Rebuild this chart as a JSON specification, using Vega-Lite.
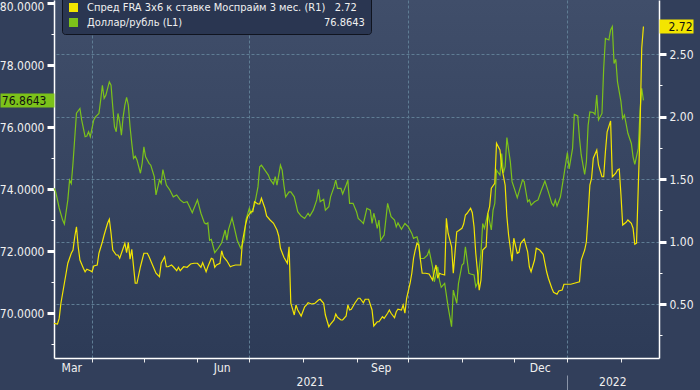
{
 "$schema": "https://vega.github.io/schema/vega-lite/v6.json",
 "width": 605, "height": 358,
 "autosize": {"type": "none"},
 "padding": {"left": 54, "top": 0, "right": 41, "bottom": 32},
 "background": "#323f5b",
 "datasets": {
  "usd": [
   {"d":"2021-03-10","v":74.03},{"d":"2021-03-11","v":73.91},{"d":"2021-03-13","v":73.39},{"d":"2021-03-15","v":73.0},{"d":"2021-03-16","v":72.87},{"d":"2021-03-18","v":73.65},{"d":"2021-03-19","v":74.29},{"d":"2021-03-20","v":74.18},{"d":"2021-03-21","v":74.84},{"d":"2021-03-23","v":76.45},{"d":"2021-03-25","v":76.6},{"d":"2021-03-26","v":76.23},{"d":"2021-03-28","v":75.69},{"d":"2021-03-29","v":75.71},{"d":"2021-03-30","v":75.85},{"d":"2021-03-31","v":75.69},
   {"d":"2021-04-02","v":76.23},{"d":"2021-04-03","v":76.33},{"d":"2021-04-05","v":76.44},{"d":"2021-04-06","v":76.87},{"d":"2021-04-07","v":77.35},{"d":"2021-04-08","v":76.93},{"d":"2021-04-09","v":77.03},{"d":"2021-04-11","v":77.46},{"d":"2021-04-12","v":77.35},{"d":"2021-04-13","v":76.65},{"d":"2021-04-14","v":76.01},{"d":"2021-04-15","v":75.85},{"d":"2021-04-16","v":76.44},{"d":"2021-04-17","v":76.17},{"d":"2021-04-18","v":75.74},{"d":"2021-04-19","v":76.33},{"d":"2021-04-20","v":76.71},{"d":"2021-04-21","v":76.96},{"d":"2021-04-22","v":76.71},{"d":"2021-04-23","v":76.01},{"d":"2021-04-24","v":75.47},{"d":"2021-04-25","v":74.99},{"d":"2021-04-26","v":75.06},{"d":"2021-04-27","v":74.94},{"d":"2021-04-29","v":74.51},{"d":"2021-04-30","v":74.83},
   {"d":"2021-05-01","v":75.36},{"d":"2021-05-02","v":75.04},{"d":"2021-05-04","v":74.83},{"d":"2021-05-05","v":74.77},{"d":"2021-05-07","v":74.4},{"d":"2021-05-08","v":73.81},{"d":"2021-05-10","v":74.29},{"d":"2021-05-11","v":74.18},{"d":"2021-05-12","v":74.63},{"d":"2021-05-14","v":74.13},{"d":"2021-05-16","v":73.97},{"d":"2021-05-18","v":73.75},{"d":"2021-05-20","v":73.81},{"d":"2021-05-22","v":73.65},{"d":"2021-05-24","v":73.56},{"d":"2021-05-26","v":73.59},{"d":"2021-05-27","v":73.48},{"d":"2021-05-29","v":73.24},{"d":"2021-05-30","v":73.38},
   {"d":"2021-06-01","v":73.65},{"d":"2021-06-03","v":73.22},{"d":"2021-06-05","v":72.91},{"d":"2021-06-06","v":72.87},{"d":"2021-06-07","v":72.91},{"d":"2021-06-08","v":72.35},{"d":"2021-06-09","v":72.38},{"d":"2021-06-11","v":71.95},{"d":"2021-06-13","v":72.09},{"d":"2021-06-15","v":72.27},{"d":"2021-06-17","v":72.68},{"d":"2021-06-18","v":72.35},{"d":"2021-06-19","v":72.7},{"d":"2021-06-21","v":73.07},{"d":"2021-06-22","v":72.84},{"d":"2021-06-24","v":72.35},{"d":"2021-06-26","v":72.09},{"d":"2021-06-28","v":72.35},{"d":"2021-06-29","v":73.0},
   {"d":"2021-07-01","v":73.38},{"d":"2021-07-02","v":73.22},{"d":"2021-07-04","v":73.48},{"d":"2021-07-06","v":74.07},{"d":"2021-07-07","v":74.72},{"d":"2021-07-08","v":74.77},{"d":"2021-07-10","v":74.61},{"d":"2021-07-12","v":74.45},{"d":"2021-07-13","v":74.31},{"d":"2021-07-15","v":74.16},{"d":"2021-07-16","v":74.4},{"d":"2021-07-17","v":74.13},{"d":"2021-07-19","v":74.77},{"d":"2021-07-20","v":74.61},{"d":"2021-07-21","v":74.13},{"d":"2021-07-22","v":73.75},{"d":"2021-07-24","v":73.91},{"d":"2021-07-25","v":73.91},{"d":"2021-07-27","v":73.75},{"d":"2021-07-29","v":73.27},{"d":"2021-07-31","v":73.13},
   {"d":"2021-08-02","v":73.05},{"d":"2021-08-04","v":73.22},{"d":"2021-08-05","v":73.13},{"d":"2021-08-07","v":73.32},{"d":"2021-08-09","v":73.65},{"d":"2021-08-10","v":73.99},{"d":"2021-08-11","v":73.59},{"d":"2021-08-13","v":73.67},{"d":"2021-08-14","v":73.32},{"d":"2021-08-16","v":73.43},{"d":"2021-08-17","v":73.75},{"d":"2021-08-19","v":74.07},{"d":"2021-08-20","v":74.29},{"d":"2021-08-21","v":74.02},{"d":"2021-08-23","v":74.02},{"d":"2021-08-24","v":73.84},{"d":"2021-08-26","v":74.13},{"d":"2021-08-27","v":74.29},{"d":"2021-08-28","v":73.54},{"d":"2021-08-30","v":73.54},
   {"d":"2021-09-01","v":73.27},{"d":"2021-09-02","v":73.05},{"d":"2021-09-04","v":72.95},{"d":"2021-09-05","v":72.89},{"d":"2021-09-07","v":73.38},{"d":"2021-09-09","v":73.32},{"d":"2021-09-10","v":72.89},{"d":"2021-09-11","v":73.22},{"d":"2021-09-12","v":73.0},{"d":"2021-09-13","v":72.73},{"d":"2021-09-14","v":73.0},{"d":"2021-09-15","v":72.35},{"d":"2021-09-17","v":72.52},{"d":"2021-09-19","v":73.54},{"d":"2021-09-21","v":73.11},{"d":"2021-09-23","v":73.0},{"d":"2021-09-24","v":72.78},{"d":"2021-09-25","v":72.91},{"d":"2021-09-27","v":72.7},{"d":"2021-09-29","v":72.89},
   {"d":"2021-10-01","v":72.78},{"d":"2021-10-03","v":72.57},{"d":"2021-10-04","v":72.41},{"d":"2021-10-06","v":72.46},{"d":"2021-10-07","v":72.25},{"d":"2021-10-08","v":71.76},{"d":"2021-10-10","v":71.76},{"d":"2021-10-12","v":71.87},{"d":"2021-10-13","v":72.03},{"d":"2021-10-15","v":71.49},{"d":"2021-10-16","v":71.01},{"d":"2021-10-18","v":71.49},{"d":"2021-10-19","v":71.06},{"d":"2021-10-20","v":70.83},{"d":"2021-10-22","v":70.96},{"d":"2021-10-24","v":70.2},{"d":"2021-10-26","v":69.56},{"d":"2021-10-27","v":70.74},{"d":"2021-10-29","v":70.31},{"d":"2021-10-30","v":70.96},
   {"d":"2021-11-01","v":71.55},{"d":"2021-11-02","v":71.6},{"d":"2021-11-03","v":72.14},{"d":"2021-11-05","v":71.28},{"d":"2021-11-06","v":71.26},{"d":"2021-11-08","v":71.23},{"d":"2021-11-09","v":70.85},{"d":"2021-11-10","v":70.96},{"d":"2021-11-12","v":71.93},{"d":"2021-11-13","v":72.89},{"d":"2021-11-14","v":72.73},{"d":"2021-11-16","v":73.22},{"d":"2021-11-18","v":72.68},{"d":"2021-11-19","v":73.32},{"d":"2021-11-20","v":73.54},{"d":"2021-11-21","v":74.61},{"d":"2021-11-23","v":74.45},{"d":"2021-11-24","v":75.15},{"d":"2021-11-25","v":74.52},{"d":"2021-11-26","v":74.72},{"d":"2021-11-27","v":75.66},{"d":"2021-11-29","v":74.88},{"d":"2021-11-30","v":74.24},
   {"d":"2021-12-01","v":74.07},{"d":"2021-12-03","v":73.72},{"d":"2021-12-04","v":73.91},{"d":"2021-12-06","v":74.29},{"d":"2021-12-07","v":74.24},{"d":"2021-12-09","v":73.59},{"d":"2021-12-10","v":73.65},{"d":"2021-12-11","v":73.48},{"d":"2021-12-13","v":73.59},{"d":"2021-12-15","v":73.65},{"d":"2021-12-17","v":73.97},{"d":"2021-12-19","v":74.26},{"d":"2021-12-21","v":73.91},{"d":"2021-12-23","v":73.54},{"d":"2021-12-24","v":73.46},{"d":"2021-12-25","v":73.65},{"d":"2021-12-26","v":73.45},{"d":"2021-12-28","v":73.75},{"d":"2021-12-30","v":74.45},
   {"d":"2022-01-01","v":75.18},{"d":"2022-01-02","v":74.65},{"d":"2022-01-04","v":75.31},{"d":"2022-01-05","v":76.41},{"d":"2022-01-07","v":76.36},{"d":"2022-01-08","v":75.64},{"d":"2022-01-09","v":75.1},{"d":"2022-01-11","v":74.47},{"d":"2022-01-12","v":74.88},{"d":"2022-01-13","v":76.06},{"d":"2022-01-14","v":76.49},{"d":"2022-01-16","v":76.47},{"d":"2022-01-17","v":76.41},{"d":"2022-01-18","v":77.03},{"d":"2022-01-19","v":76.23},{"d":"2022-01-21","v":76.44},{"d":"2022-01-22","v":77.89},{"d":"2022-01-23","v":78.86},{"d":"2022-01-25","v":78.81},{"d":"2022-01-26","v":79.13},{"d":"2022-01-27","v":79.24},{"d":"2022-01-28","v":78.05},{"d":"2022-01-29","v":78.19},{"d":"2022-01-30","v":77.46},
   {"d":"2022-02-01","v":76.82},{"d":"2022-02-02","v":76.28},{"d":"2022-02-03","v":76.39},{"d":"2022-02-05","v":75.8},{"d":"2022-02-07","v":75.47},{"d":"2022-02-08","v":75.04},{"d":"2022-02-09","v":74.8},{"d":"2022-02-11","v":75.31},{"d":"2022-02-12","v":76.49},{"d":"2022-02-13","v":77.25},{"d":"2022-02-14","v":76.8643}
  ],
  "fra": [
   {"d":"2021-03-10","v":0.345},{"d":"2021-03-12","v":0.34},{"d":"2021-03-13","v":0.385},{"d":"2021-03-14","v":0.506},{"d":"2021-03-16","v":0.666},{"d":"2021-03-17","v":0.746},{"d":"2021-03-18","v":0.826},{"d":"2021-03-20","v":0.906},{"d":"2021-03-21","v":0.932},{"d":"2021-03-22","v":1.038},{"d":"2021-03-23","v":1.118},{"d":"2021-03-24","v":0.958},{"d":"2021-03-25","v":0.852},{"d":"2021-03-27","v":0.786},{"d":"2021-03-28","v":0.758},{"d":"2021-03-29","v":0.778},{"d":"2021-03-31","v":0.766},
   {"d":"2021-04-01","v":0.758},{"d":"2021-04-02","v":0.804},{"d":"2021-04-04","v":0.812},{"d":"2021-04-05","v":0.906},{"d":"2021-04-07","v":0.998},{"d":"2021-04-08","v":1.052},{"d":"2021-04-10","v":1.146},{"d":"2021-04-11","v":1.178},{"d":"2021-04-12","v":1.066},{"d":"2021-04-13","v":0.932},{"d":"2021-04-15","v":0.892},{"d":"2021-04-16","v":0.892},{"d":"2021-04-17","v":0.866},{"d":"2021-04-18","v":0.906},{"d":"2021-04-20","v":0.986},{"d":"2021-04-21","v":0.911},{"d":"2021-04-22","v":0.991},{"d":"2021-04-23","v":0.858},{"d":"2021-04-24","v":0.938},{"d":"2021-04-26","v":0.666},{"d":"2021-04-27","v":0.666},{"d":"2021-04-29","v":0.798},{"d":"2021-04-30","v":0.852},
   {"d":"2021-05-01","v":0.906},{"d":"2021-05-03","v":0.906},{"d":"2021-05-04","v":0.878},{"d":"2021-05-06","v":0.812},{"d":"2021-05-08","v":0.746},{"d":"2021-05-10","v":0.718},{"d":"2021-05-11","v":0.826},{"d":"2021-05-13","v":0.878},{"d":"2021-05-14","v":0.798},{"d":"2021-05-15","v":0.798},{"d":"2021-05-17","v":0.812},{"d":"2021-05-18","v":0.798},{"d":"2021-05-20","v":0.766},{"d":"2021-05-21","v":0.794},{"d":"2021-05-22","v":0.766},{"d":"2021-05-24","v":0.798},{"d":"2021-05-26","v":0.794},{"d":"2021-05-28","v":0.82},{"d":"2021-05-30","v":0.826},
   {"d":"2021-06-01","v":0.826},{"d":"2021-06-03","v":0.794},{"d":"2021-06-04","v":0.831},{"d":"2021-06-06","v":0.758},{"d":"2021-06-07","v":0.798},{"d":"2021-06-09","v":0.866},{"d":"2021-06-10","v":0.858},{"d":"2021-06-11","v":0.794},{"d":"2021-06-12","v":0.812},{"d":"2021-06-14","v":0.826},{"d":"2021-06-15","v":0.926},{"d":"2021-06-16","v":0.878},{"d":"2021-06-18","v":0.846},{"d":"2021-06-20","v":0.798},{"d":"2021-06-21","v":0.804},{"d":"2021-06-23","v":0.812},{"d":"2021-06-26","v":0.812},{"d":"2021-06-27","v":0.998},{"d":"2021-06-29","v":1.146},{"d":"2021-06-30","v":1.198},
   {"d":"2021-07-02","v":1.238},{"d":"2021-07-03","v":1.238},{"d":"2021-07-04","v":1.318},{"d":"2021-07-06","v":1.3},{"d":"2021-07-07","v":1.3},{"d":"2021-07-08","v":1.346},{"d":"2021-07-10","v":1.266},{"d":"2021-07-11","v":1.204},{"d":"2021-07-13","v":1.172},{"d":"2021-07-15","v":1.146},{"d":"2021-07-17","v":1.092},{"d":"2021-07-18","v":1.044},{"d":"2021-07-19","v":0.946},{"d":"2021-07-21","v":0.874},{"d":"2021-07-23","v":0.826},{"d":"2021-07-24","v":0.958},{"d":"2021-07-25","v":0.506},{"d":"2021-07-27","v":0.412},{"d":"2021-07-28","v":0.492},{"d":"2021-07-29","v":0.452},{"d":"2021-07-31","v":0.404},
   {"d":"2021-08-02","v":0.478},{"d":"2021-08-03","v":0.492},{"d":"2021-08-04","v":0.51},{"d":"2021-08-06","v":0.5},{"d":"2021-08-08","v":0.506},{"d":"2021-08-10","v":0.532},{"d":"2021-08-11","v":0.538},{"d":"2021-08-13","v":0.506},{"d":"2021-08-14","v":0.412},{"d":"2021-08-16","v":0.318},{"d":"2021-08-17","v":0.34},{"d":"2021-08-19","v":0.372},{"d":"2021-08-20","v":0.42},{"d":"2021-08-21","v":0.394},{"d":"2021-08-23","v":0.372},{"d":"2021-08-24","v":0.372},{"d":"2021-08-26","v":0.404},{"d":"2021-08-27","v":0.492},{"d":"2021-08-28","v":0.452},{"d":"2021-08-29","v":0.458},{"d":"2021-08-31","v":0.506},
   {"d":"2021-09-02","v":0.546},{"d":"2021-09-03","v":0.546},{"d":"2021-09-05","v":0.51},{"d":"2021-09-06","v":0.538},{"d":"2021-09-08","v":0.538},{"d":"2021-09-10","v":0.452},{"d":"2021-09-11","v":0.324},{"d":"2021-09-13","v":0.358},{"d":"2021-09-14","v":0.358},{"d":"2021-09-16","v":0.398},{"d":"2021-09-17","v":0.386},{"d":"2021-09-19","v":0.426},{"d":"2021-09-20","v":0.452},{"d":"2021-09-21","v":0.426},{"d":"2021-09-23","v":0.39},{"d":"2021-09-24","v":0.438},{"d":"2021-09-25","v":0.458},{"d":"2021-09-27","v":0.452},{"d":"2021-09-28","v":0.492},{"d":"2021-09-29","v":0.426},{"d":"2021-09-30","v":0.546},
   {"d":"2021-10-02","v":0.666},{"d":"2021-10-03","v":0.746},{"d":"2021-10-04","v":0.866},{"d":"2021-10-05","v":0.932},{"d":"2021-10-06","v":0.986},{"d":"2021-10-07","v":0.972},{"d":"2021-10-08","v":0.852},{"d":"2021-10-09","v":0.746},{"d":"2021-10-11","v":0.746},{"d":"2021-10-13","v":0.74},{"d":"2021-10-15","v":0.692},{"d":"2021-10-16","v":0.758},{"d":"2021-10-17","v":0.812},{"d":"2021-10-18","v":0.706},{"d":"2021-10-19","v":0.746},{"d":"2021-10-20","v":0.74},{"d":"2021-10-22","v":0.732},{"d":"2021-10-23","v":1.186},{"d":"2021-10-24","v":1.066},{"d":"2021-10-26","v":0.958},{"d":"2021-10-27","v":0.746},{"d":"2021-10-29","v":1.078},{"d":"2021-10-30","v":1.086},
   {"d":"2021-11-01","v":1.106},{"d":"2021-11-02","v":1.14},{"d":"2021-11-03","v":1.212},{"d":"2021-11-04","v":1.226},{"d":"2021-11-06","v":1.266},{"d":"2021-11-07","v":1.23},{"d":"2021-11-08","v":1.118},{"d":"2021-11-09","v":0.906},{"d":"2021-11-11","v":0.61},{"d":"2021-11-12","v":0.692},{"d":"2021-11-13","v":0.932},{"d":"2021-11-15","v":0.958},{"d":"2021-11-16","v":1.226},{"d":"2021-11-17","v":1.278},{"d":"2021-11-18","v":1.426},{"d":"2021-11-20","v":1.466},{"d":"2021-11-21","v":1.786},{"d":"2021-11-23","v":1.732},{"d":"2021-11-24","v":1.598},{"d":"2021-11-26","v":1.45},{"d":"2021-11-27","v":1.2},{"d":"2021-11-28","v":1.05},{"d":"2021-11-30","v":0.842},
   {"d":"2021-12-01","v":1.026},{"d":"2021-12-03","v":0.906},{"d":"2021-12-04","v":0.914},{"d":"2021-12-05","v":0.986},{"d":"2021-12-07","v":1.02},{"d":"2021-12-09","v":0.918},{"d":"2021-12-10","v":0.798},{"d":"2021-12-11","v":0.758},{"d":"2021-12-13","v":0.852},{"d":"2021-12-14","v":0.946},{"d":"2021-12-16","v":0.932},{"d":"2021-12-18","v":0.898},{"d":"2021-12-20","v":0.758},{"d":"2021-12-21","v":0.706},{"d":"2021-12-23","v":0.626},{"d":"2021-12-24","v":0.594},{"d":"2021-12-26","v":0.578},{"d":"2021-12-27","v":0.604},{"d":"2021-12-29","v":0.612},{"d":"2021-12-30","v":0.658},
   {"d":"2022-01-01","v":0.658},{"d":"2022-01-03","v":0.658},{"d":"2022-01-05","v":0.666},{"d":"2022-01-08","v":0.678},{"d":"2022-01-09","v":0.852},{"d":"2022-01-11","v":0.932},{"d":"2022-01-12","v":0.998},{"d":"2022-01-13","v":1.212},{"d":"2022-01-14","v":1.452},{"d":"2022-01-15","v":1.506},{"d":"2022-01-16","v":1.666},{"d":"2022-01-18","v":1.732},{"d":"2022-01-19","v":1.612},{"d":"2022-01-21","v":1.518},{"d":"2022-01-22","v":1.518},{"d":"2022-01-23","v":1.718},{"d":"2022-01-24","v":1.878},{"d":"2022-01-26","v":1.964},{"d":"2022-01-27","v":1.518},{"d":"2022-01-29","v":1.546},{"d":"2022-01-30","v":1.572},{"d":"2022-01-31","v":1.58},
   {"d":"2022-02-01","v":1.372},{"d":"2022-02-02","v":1.132},{"d":"2022-02-04","v":1.154},{"d":"2022-02-05","v":1.172},{"d":"2022-02-07","v":1.146},{"d":"2022-02-08","v":1.106},{"d":"2022-02-09","v":0.978},{"d":"2022-02-10","v":0.986},{"d":"2022-02-12","v":1.878},{"d":"2022-02-13","v":2.546},{"d":"2022-02-14","v":2.72}
  ]
 },
 "config": {
  "view": {"stroke": null, "fill": {"gradient": "linear", "x1": 0, "y1": 0, "x2": 0, "y2": 1, "stops": [{"offset": 0, "color": "#404e6a"}, {"offset": 1, "color": "#2d3b57"}]}},
  "axis": {"labelFont": "DejaVu Sans Condensed, Liberation Sans", "labelFontSize": 12, "labelColor": "#f0f0f0", "domainColor": "#ffffff", "tickColor": "#ffffff", "grid": false, "title": null}
 },
 "resolve": {"scale": {"x": "independent", "y": "independent"}, "axis": {"x": "independent", "y": "independent"}},
 "layer": [
  {
   "data": {"name": "usd"},
   "mark": {"type": "line", "strokeWidth": 1.2},
   "encoding": {
    "x": {"field": "d", "type": "temporal",
     "scale": {"type": "utc", "domain": [{"year": 2021, "month": 3, "date": 10, "utc": true}, {"year": 2022, "month": 2, "date": 23, "utc": true}]},
     "axis": {"orient": "bottom", "title": null, "labels": false, "tickSize": 4, "tickColor": "#e8e8e8", "domainWidth": 1.5,
      "values": [{"year": 2021, "month": 4, "date": 1, "utc": true}, {"year": 2021, "month": 5, "date": 1, "utc": true}, {"year": 2021, "month": 6, "date": 1, "utc": true}, {"year": 2021, "month": 7, "date": 1, "utc": true}, {"year": 2021, "month": 8, "date": 1, "utc": true}, {"year": 2021, "month": 9, "date": 1, "utc": true}, {"year": 2021, "month": 10, "date": 1, "utc": true}, {"year": 2021, "month": 11, "date": 1, "utc": true}, {"year": 2021, "month": 12, "date": 1, "utc": true}, {"year": 2022, "month": 1, "date": 1, "utc": true}, {"year": 2022, "month": 2, "date": 1, "utc": true}],
      "grid": true, "gridColor": "#5f7d94", "gridDash": [3, 2], "gridWidth": 1,
      "gridOpacity": {"condition": {"test": "utcmonth(datum.value) % 3 == 0", "value": 1}, "value": 0}}},
    "y": {"field": "v", "type": "quantitative",
     "scale": {"domain": [68.55, 80.1], "nice": false, "zero": false},
     "axis": {"orient": "left", "title": null, "values": [69, 70, 71, 72, 73, 74, 75, 76, 77, 78, 79, 80],
      "labelExpr": "datum.value % 2 == 0 ? format(datum.value, '.4f') : ''",
      "labelOffset": {"condition": {"test": "datum.value == 80", "value": 3}, "value": 0},
      "tickSize": {"condition": {"test": "datum.value % 2 == 0", "value": 7}, "value": 3},
      "tickWidth": {"condition": {"test": "datum.value % 2 == 0", "value": 3}, "value": 1},
      "labelPadding": 3, "domainWidth": 1.5}},
    "color": {"datum": "Доллар/рубль (L1)", "type": "nominal",
     "scale": {"domain": ["Спред FRA 3x6 к ставке Моспрайм 3 мес. (R1)", "Доллар/рубль (L1)"], "range": ["#f3e500", "#7cc21a"]},
     "legend": {"title": null, "orient": "none", "legendX": 8, "legendY": -4, "direction": "vertical",
      "fillColor": "#2a3651", "strokeColor": "#10141f", "cornerRadius": 3, "padding": 6,
      "symbolType": "square", "symbolSize": 81, "symbolStrokeWidth": 0,
      "labelFont": "DejaVu Sans Condensed, Liberation Sans", "labelFontSize": 11, "labelColor": "#f0f0f0", "labelOffset": 8, "rowPadding": 3, "labelLimit": 500,
      "labelExpr": "datum.label == 'Доллар/рубль (L1)' ? datum.label + '\u2003\u2003\u2003\u2003\u2003\u2003\u2003\u2003\u2003\u2003\u2003\u2003\u2003\u2003\u00a0' + '76.8643' : datum.label + '\u00a0\u00a0\u00a0' + '2.72'",
      "encode": {"symbols": {"update": {"fill": {"scale": "color", "field": "value"}, "stroke": {"value": "transparent"}}}}}}
   }
  },
  {
   "data": {"name": "fra"},
   "mark": {"type": "line", "strokeWidth": 1.2},
   "encoding": {
    "x": {"field": "d", "type": "temporal",
     "scale": {"type": "utc", "domain": [{"year": 2021, "month": 3, "date": 10, "utc": true}, {"year": 2022, "month": 2, "date": 23, "utc": true}]},
     "axis": {"orient": "bottom", "title": null, "ticks": false, "domain": false, "labelPadding": 4, "grid": false,
      "values": [{"year": 2021, "month": 3, "date": 20, "utc": true}, {"year": 2021, "month": 6, "date": 15, "utc": true}, {"year": 2021, "month": 9, "date": 15, "utc": true}, {"year": 2021, "month": 12, "date": 16, "utc": true}],
      "labelExpr": "utcFormat(datum.value, '%b')"}},
    "y": {"field": "v", "type": "quantitative",
     "scale": {"domain": [0.068, 2.932], "nice": false, "zero": false},
     "axis": {"orient": "right", "title": null, "values": [0.25, 0.5, 0.75, 1, 1.25, 1.5, 1.75, 2, 2.25, 2.5],
      "labelExpr": "(datum.value * 4) % 2 == 0 ? format(datum.value, '.2f') : ''",
      "tickSize": {"condition": {"test": "(datum.value * 4) % 2 == 0", "value": 7}, "value": 3},
      "tickWidth": {"condition": {"test": "(datum.value * 4) % 2 == 0", "value": 3}, "value": 1},
      "labelPadding": 3, "domainWidth": 1.5,
      "grid": true, "gridColor": "#5f7d94", "gridDash": [3, 2], "gridWidth": 1,
      "gridOpacity": {"condition": {"test": "(datum.value * 4) % 2 == 0", "value": 1}, "value": 0}}},
    "color": {"datum": "Спред FRA 3x6 к ставке Моспрайм 3 мес. (R1)", "type": "nominal"}
   }
  },
  {
   "data": {"name": "usd"},
   "mark": {"type": "line", "opacity": 0},
   "encoding": {
    "x": {"field": "d", "type": "temporal",
     "scale": {"type": "utc", "domain": [{"year": 2021, "month": 3, "date": 10, "utc": true}, {"year": 2022, "month": 2, "date": 23, "utc": true}]},
     "axis": {"orient": "bottom", "title": null, "ticks": false, "domain": false, "labelPadding": 18, "grid": false, "format": "%Y",
      "values": [{"year": 2021, "month": 8, "date": 5, "utc": true}, {"year": 2022, "month": 1, "date": 27, "utc": true}]}},
    "y": {"field": "v", "type": "quantitative",
     "scale": {"domain": [68.55, 80.1], "nice": false, "zero": false},
     "axis": {"orient": "left", "title": null, "values": [76.8643], "format": ".4f", "domain": false,
      "tickSize": 54, "tickWidth": 14, "tickColor": "#7cc21a", "labelColor": "#111111", "labelPadding": -46, "zindex": 2}}
   }
  },
  {
   "data": {"name": "fra"},
   "mark": {"type": "line", "opacity": 0},
   "encoding": {
    "x": {"field": "d", "type": "temporal",
     "scale": {"type": "utc", "domain": [{"year": 2021, "month": 3, "date": 10, "utc": true}, {"year": 2022, "month": 2, "date": 23, "utc": true}]},
     "axis": {"orient": "bottom", "title": null, "labels": false, "domain": false, "grid": false, "tickSize": 15, "offset": 17, "tickColor": "#8a94a8",
      "values": [{"year": 2022, "month": 1, "date": 1, "utc": true}]}},
    "y": {"field": "v", "type": "quantitative",
     "scale": {"domain": [0.068, 2.932], "nice": false, "zero": false},
     "axis": {"orient": "right", "title": null, "values": [2.72], "format": ".2f", "domain": false,
      "tickSize": 34, "tickWidth": 14, "tickColor": "#f3e500", "labelColor": "#111111", "labelPadding": -25, "zindex": 2}}
   }
  }
 ]
}
